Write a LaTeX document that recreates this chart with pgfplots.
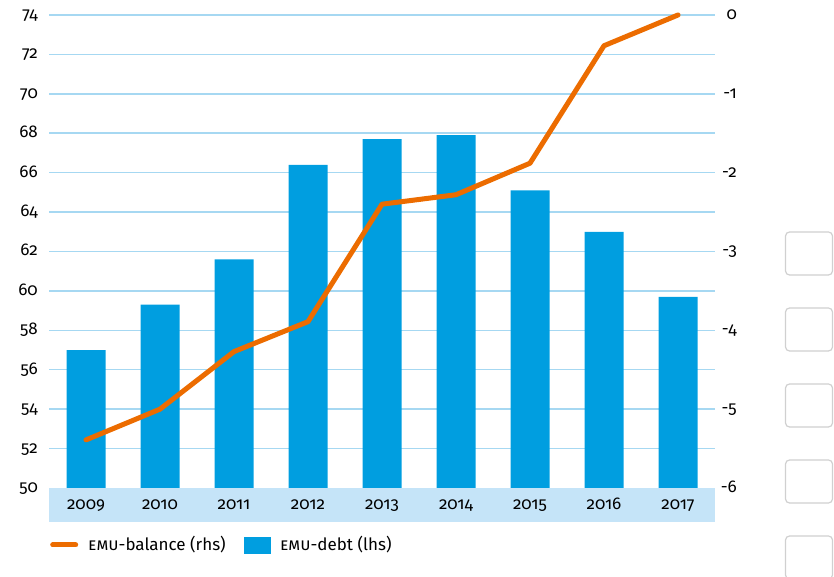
\documentclass[border=0pt]{standalone}
\usepackage{fontspec}
\setmainfont{Fira Sans}[Numbers=OldStyle]
\usepackage{pgfplots}
\pgfplotsset{compat=1.18}
\definecolor{barblue}{RGB}{0,158,224}
\definecolor{lineorange}{RGB}{236,108,0}
\definecolor{gridblue}{RGB}{166,216,242}
\definecolor{bandblue}{RGB}{197,228,248}
\definecolor{boxgray}{RGB}{208,208,208}

\begin{document}
\fontsize{17pt}{20pt}\selectfont
\begin{tikzpicture}[x=1pt,y=1pt]
% side buttons of the page
\foreach \y in {232,308,384,460,536}
  \draw[boxgray, line width=1.2pt, rounded corners=4pt] (785.5,577-\y) rectangle (832.5,577-\y-43);
% category band under the axis
\fill[bandblue] (49,55) rectangle (715,89);

% EMU debt, left axis
\begin{axis}[
  at={(49pt,89pt)}, anchor=south west,
  scale only axis, width=666pt, height=473pt,
  xmin=-0.5, xmax=8.5, ymin=50, ymax=74,
  clip=false,
  axis line style={draw=none},
  major tick length=0pt,
  ytick={52,54,...,74},
  extra y ticks={50}, extra y tick style={grid=none},
  yticklabel style={anchor=mid east, inner sep=0pt, xshift=-11pt},
  /pgf/number format/assume math mode=true,
  ymajorgrids, grid style={gridblue, line width=1.5pt},
  xtick={0,1,2,3,4,5,6,7,8},
  xticklabels={2009,2010,2011,2012,2013,2014,2015,2016,2017},
  xticklabel style={anchor=base, inner sep=0pt, yshift=-22pt},
  ybar, bar width=39pt,
]
  \addplot[fill=barblue, draw=none] coordinates {
    (0,57.0) (1,59.3) (2,61.6) (3,66.4) (4,67.7)
    (5,67.9) (6,65.1) (7,63.0) (8,59.7)
  };
\end{axis}

% EMU balance, right axis
\begin{axis}[
  at={(49pt,89pt)}, anchor=south west,
  scale only axis, width=666pt, height=473pt,
  xmin=-0.5, xmax=8.5, ymin=-6, ymax=0,
  clip=false,
  axis x line=none, axis y line*=right,
  axis line style={draw=none},
  major tick length=0pt,
  ytick={-6,-5,-4,-3,-2,-1,0},
  yticklabels={-6,-5,-4,-3,-2,-1,0},
  yticklabel style={anchor=mid east, inner sep=0pt, xshift=22pt},
  legend style={at={(axis description cs:0,0)}, anchor=west, xshift=1pt, yshift=-57pt,
    draw=none, fill=none, inner sep=0pt, nodes={inner sep=0pt},
    legend columns=2,
    /tikz/every odd column/.append style={column sep=10pt},
    /tikz/every even column/.append style={column sep=18pt}},
  legend cell align=left,
]
  \addplot[lineorange, line width=5pt, line join=round, line cap=round,
    legend image code/.code={\draw[lineorange, line width=5pt, line cap=round] (2.5pt,0pt) -- (25.5pt,0pt);}]
    coordinates {
    (0,-5.39) (1,-5.0) (2,-4.27) (3,-3.89) (4,-2.40)
    (5,-2.28) (6,-1.88) (7,-0.39) (8,0.0)
  };
  \addlegendentry{\textsc{emu}-balance (rhs)}
  \addlegendimage{legend image code/.code={\fill[barblue] (0pt,-8pt) rectangle (26pt,8pt);}}
  \addlegendentry{\textsc{emu}-debt (lhs)}
\end{axis}
\pgfresetboundingbox
\useasboundingbox (0,0) rectangle (834,577);
\end{tikzpicture}
\end{document}
